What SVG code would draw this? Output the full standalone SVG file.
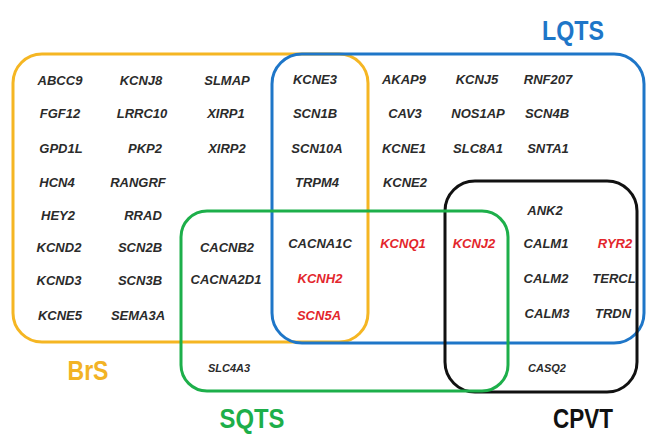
<svg xmlns="http://www.w3.org/2000/svg" width="649" height="436" viewBox="0 0 649 436">
<style>
.box{fill:none;stroke-width:3}
.g{font-family:"Liberation Sans",Arial,sans-serif;font-weight:bold;font-style:italic;font-size:13px;fill:#2b2b2b;text-anchor:middle}
.r{fill:#e3262c}
.s{font-size:11px}
.lbl{font-family:"Liberation Sans",Arial,sans-serif;font-weight:bold;font-size:27px;text-anchor:middle}
</style>
<rect width="649" height="436" fill="#fff"/>
<g id="BrS">
<rect class="box" x="13" y="54" width="355" height="288" rx="29" stroke="#f5b623"/>
<text class="lbl" x="88" y="380" fill="#f2b325" textLength="41" lengthAdjust="spacingAndGlyphs">BrS</text>
</g>
<g id="LQTS">
<rect class="box" x="272" y="54" width="372" height="289" rx="30" stroke="#1e76c8"/>
<text class="lbl" x="573" y="40" fill="#1e76c8" textLength="62" lengthAdjust="spacingAndGlyphs">LQTS</text>
</g>
<g id="CPVT">
<rect class="box" x="445" y="181" width="192" height="211" rx="30" stroke="#111"/>
<text class="lbl" x="583" y="428" fill="#111" textLength="60" lengthAdjust="spacingAndGlyphs">CPVT</text>
</g>
<g id="SQTS">
<rect class="box" x="181" y="211" width="327" height="180" rx="26" stroke="#1daf4a"/>
<text class="lbl" x="252" y="428" fill="#1daf4a" textLength="65" lengthAdjust="spacingAndGlyphs">SQTS</text>
</g>
<g id="connectors"/>
<g id="genes">
<text class="g" x="60" y="85">ABCC9</text>
<text class="g" x="141" y="85">KCNJ8</text>
<text class="g" x="227" y="85">SLMAP</text>
<text class="g" x="315" y="84">KCNE3</text>
<text class="g" x="404" y="84">AKAP9</text>
<text class="g" x="477" y="84">KCNJ5</text>
<text class="g" x="548" y="84">RNF207</text>
<text class="g" x="60" y="118">FGF12</text>
<text class="g" x="142" y="118">LRRC10</text>
<text class="g" x="226" y="118">XIRP1</text>
<text class="g" x="315" y="118">SCN1B</text>
<text class="g" x="405" y="118">CAV3</text>
<text class="g" x="478" y="118">NOS1AP</text>
<text class="g" x="547" y="118">SCN4B</text>
<text class="g" x="61" y="153">GPD1L</text>
<text class="g" x="145" y="153">PKP2</text>
<text class="g" x="227" y="153">XIRP2</text>
<text class="g" x="317" y="153">SCN10A</text>
<text class="g" x="404" y="153">KCNE1</text>
<text class="g" x="478" y="153">SLC8A1</text>
<text class="g" x="548" y="153">SNTA1</text>
<text class="g" x="57" y="187">HCN4</text>
<text class="g" x="138" y="187">RANGRF</text>
<text class="g" x="317" y="187">TRPM4</text>
<text class="g" x="405" y="187">KCNE2</text>
<text class="g" x="545" y="215">ANK2</text>
<text class="g" x="58" y="220">HEY2</text>
<text class="g" x="143" y="220">RRAD</text>
<text class="g" x="59" y="252">KCND2</text>
<text class="g" x="140" y="252">SCN2B</text>
<text class="g" x="227" y="252">CACNB2</text>
<text class="g" x="320" y="248">CACNA1C</text>
<text class="g r" x="403" y="248">KCNQ1</text>
<text class="g r" x="474" y="248">KCNJ2</text>
<text class="g" x="546" y="248">CALM1</text>
<text class="g r" x="615" y="248">RYR2</text>
<text class="g" x="59" y="285">KCND3</text>
<text class="g" x="140" y="285">SCN3B</text>
<text class="g" x="226" y="284">CACNA2D1</text>
<text class="g r" x="320" y="283">KCNH2</text>
<text class="g" x="546" y="283">CALM2</text>
<text class="g" x="614" y="283">TERCL</text>
<text class="g" x="60" y="320">KCNE5</text>
<text class="g" x="138" y="320">SEMA3A</text>
<text class="g r" x="319" y="320">SCN5A</text>
<text class="g" x="547" y="318">CALM3</text>
<text class="g" x="613" y="318">TRDN</text>
<text class="g s" x="229" y="372">SLC4A3</text>
<text class="g s" x="547" y="372">CASQ2</text>
</g>
</svg>
